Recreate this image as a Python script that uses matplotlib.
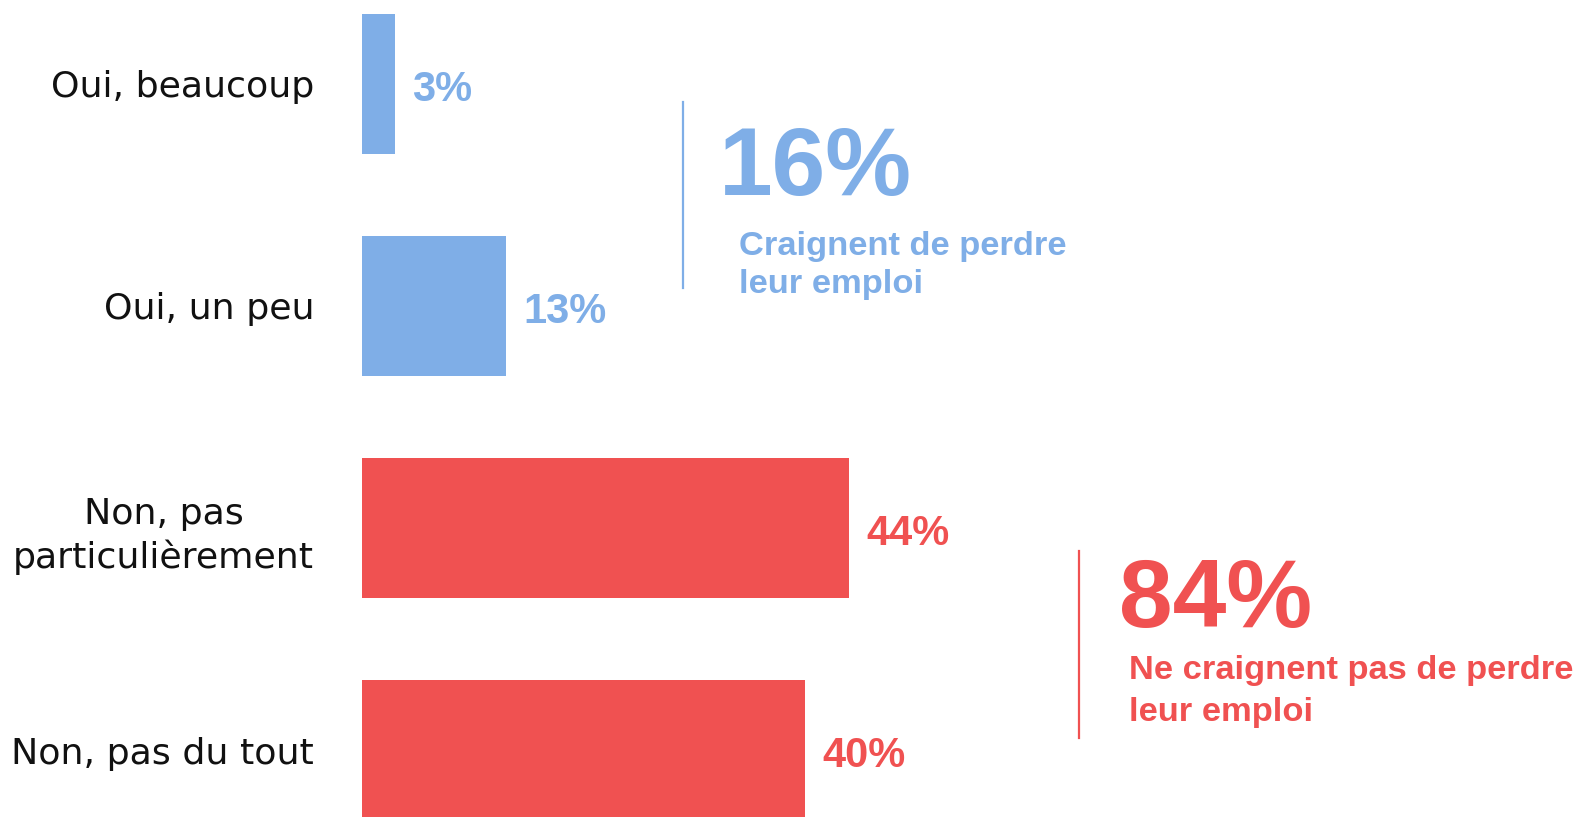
import matplotlib
matplotlib.use("Agg")
import matplotlib.pyplot as plt
from matplotlib.lines import Line2D

# ---- data ----
categories = ["Oui, beaucoup", "Oui, un peu", "Non, pas\nparticulièrement", "Non, pas du tout"]
values = [3, 13, 44, 40]
value_labels = ["3%", "13%", "44%", "40%"]
groups = [0, 0, 1, 1]
total_labels = ["16%", "84%"]
total_texts = [["Craignent de perdre", "leur emploi"],
               ["Ne craignent pas de perdre", "leur emploi"]]

# ---- style ----
BLUE = "#7FAEE7"
RED = "#F05151"
group_colors = [BLUE, RED]
BOLD = ["Liberation Sans", "DejaVu Sans"]

W, H = 1583, 817
fig = plt.figure(figsize=(W / 100, H / 100), dpi=100)
fig.patch.set_facecolor("white")

px_per_pct = 11.07
pitch = 222.0
first_center = 84.0
ax = fig.add_axes([362 / W, 0, (W - 362) / W, 1])
ax.set_xlim(0, (W - 362) / px_per_pct)
ax.set_ylim((H - first_center) / pitch, -first_center / pitch)

colors = [group_colors[g] for g in groups]
ax.barh(range(len(values)), values, height=140 / pitch, color=colors, edgecolor="none")

ax.set_yticks(range(len(categories)), categories)
ax.tick_params(axis="y", length=0, pad=34.5, labelsize=26.2)
for lbl in ax.get_yticklabels():
    lbl.set_multialignment("center")
    lbl.set_linespacing(1.3)
    lbl.set_fontfamily(["DejaVu Sans"])
    lbl.set_color("#111111")
ax.set_xticks([])
for s in ax.spines.values():
    s.set_visible(False)

for i, (v, lab) in enumerate(zip(values, value_labels)):
    ax.text(v + 1.55, i + 17 / pitch, lab, va="baseline", ha="left",
            fontsize=30, fontweight="bold", family=BOLD, color=colors[i])

# ---- summary annotations (pixel layout) ----
def fx(x):
    return x / W

def fy(y):
    return 1 - y / H

layout = [
    dict(line_x=683, line_y=(102, 288), big=(719, 195), sub_x=739, sub_y=(255, 293)),
    dict(line_x=1079, line_y=(551, 738), big=(1119, 627), sub_x=1129, sub_y=(679, 721)),
]
for g, L in enumerate(layout):
    c = group_colors[g]
    fig.add_artist(Line2D([fx(L["line_x"])] * 2, [fy(L["line_y"][0]), fy(L["line_y"][1])],
                          color=c, lw=1.6))
    fig.text(fx(L["big"][0]), fy(L["big"][1]), total_labels[g], ha="left", va="baseline",
             fontsize=69.5, fontweight="bold", family=BOLD, color=c)
    for line, yb in zip(total_texts[g], L["sub_y"]):
        fig.text(fx(L["sub_x"]), fy(yb), line, ha="left", va="baseline",
                 fontsize=24.8, fontweight="bold", family=BOLD, color=c)

fig.savefig("out.png", dpi=100, facecolor="white")
